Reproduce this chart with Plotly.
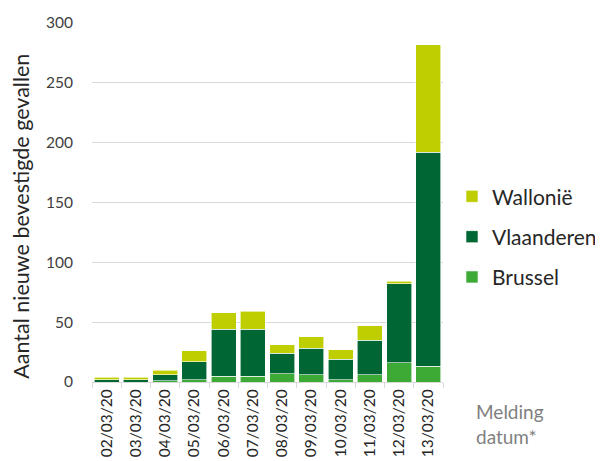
import plotly.graph_objects as go

dates = ["02/03/20", "03/03/20", "04/03/20", "05/03/20", "06/03/20", "07/03/20",
         "08/03/20", "09/03/20", "10/03/20", "11/03/20", "12/03/20", "13/03/20"]
brussel = [0, 0, 1, 2, 5, 5, 7, 6, 2, 6, 16, 13]
vlaanderen = [2, 2, 5, 15, 39, 39, 17, 22, 17, 29, 66, 179]
wallonie = [2, 2, 4, 9, 14, 15, 7, 10, 8, 12, 2, 90]

FONT = "Lato"
OFF = 8  # default page body margin
W, H = 603 - OFF, 461 - OFF
# target screen coordinates of the plot area
SX0, SX1, SY0, SY1 = 92, 443, 23, 382.5
L, R = SX0 - OFF, W - (SX1 - OFF)
T, B = SY0 - OFF, H - (SY1 - OFF)


def px(sx):
    return (sx - SX0) / (SX1 - SX0)


def py(sy):
    return (SY1 - sy) / (SY1 - SY0)


fig = go.Figure()
series = [("Brussel", brussel, "#3DAA35", 3),
          ("Vlaanderen", vlaanderen, "#006634", 2),
          ("Wallonië", wallonie, "#BFCE00", 1)]
for name, vals, col, rank in series:
    fig.add_trace(go.Bar(x=dates, y=vals, name=name, legendgroup=name, legendrank=rank,
                         marker=dict(color=col, line=dict(color="white", width=0.6))))

fig.update_layout(
    barmode="stack", bargap=0.14,
    width=W, height=H,
    margin=dict(l=L, r=R, t=T, b=B, autoexpand=False),
    paper_bgcolor="white", plot_bgcolor="white",
    font=dict(family=FONT, color="#404040"),
    showlegend=True,
    legend=dict(traceorder="grouped", tracegroupgap=10,
                x=px(452), xanchor="left", y=py(237), yanchor="middle",
                font=dict(size=21, color="#262626", family=FONT),
                itemwidth=30),
    xaxis=dict(type="category", tickangle=-90, tickfont=dict(size=15.5, color="#262626"),
               showline=True, linecolor="#D9D9D9", linewidth=1,
               ticks="outside", tickson="boundaries", ticklen=5, tickcolor="#D9D9D9",
               showgrid=False, automargin=False),
    yaxis=dict(range=[0, 300], tickvals=[0, 50, 100, 150, 200, 250, 300],
               tickfont=dict(size=15.5, color="#404040"),
               showgrid=True, gridcolor="#D9D9D9", gridwidth=1,
               zeroline=False, showline=False, ticklabelstandoff=18, automargin=False),
)
fig.add_annotation(text="Aantal nieuwe bevestigde gevallen", textangle=-90,
                   xref="paper", yref="paper",
                   x=px(21), y=py(217),
                   xanchor="center", yanchor="middle", showarrow=False,
                   font=dict(size=21.5, color="#262626", family=FONT))
fig.add_annotation(text="Melding<br>datum*", xref="paper", yref="paper",
                   x=px(474), y=py(399),
                   xanchor="left", yanchor="top", align="left", showarrow=False,
                   font=dict(size=19, color="#7F7F7F", family=FONT))

fig.write_html("out.html")
